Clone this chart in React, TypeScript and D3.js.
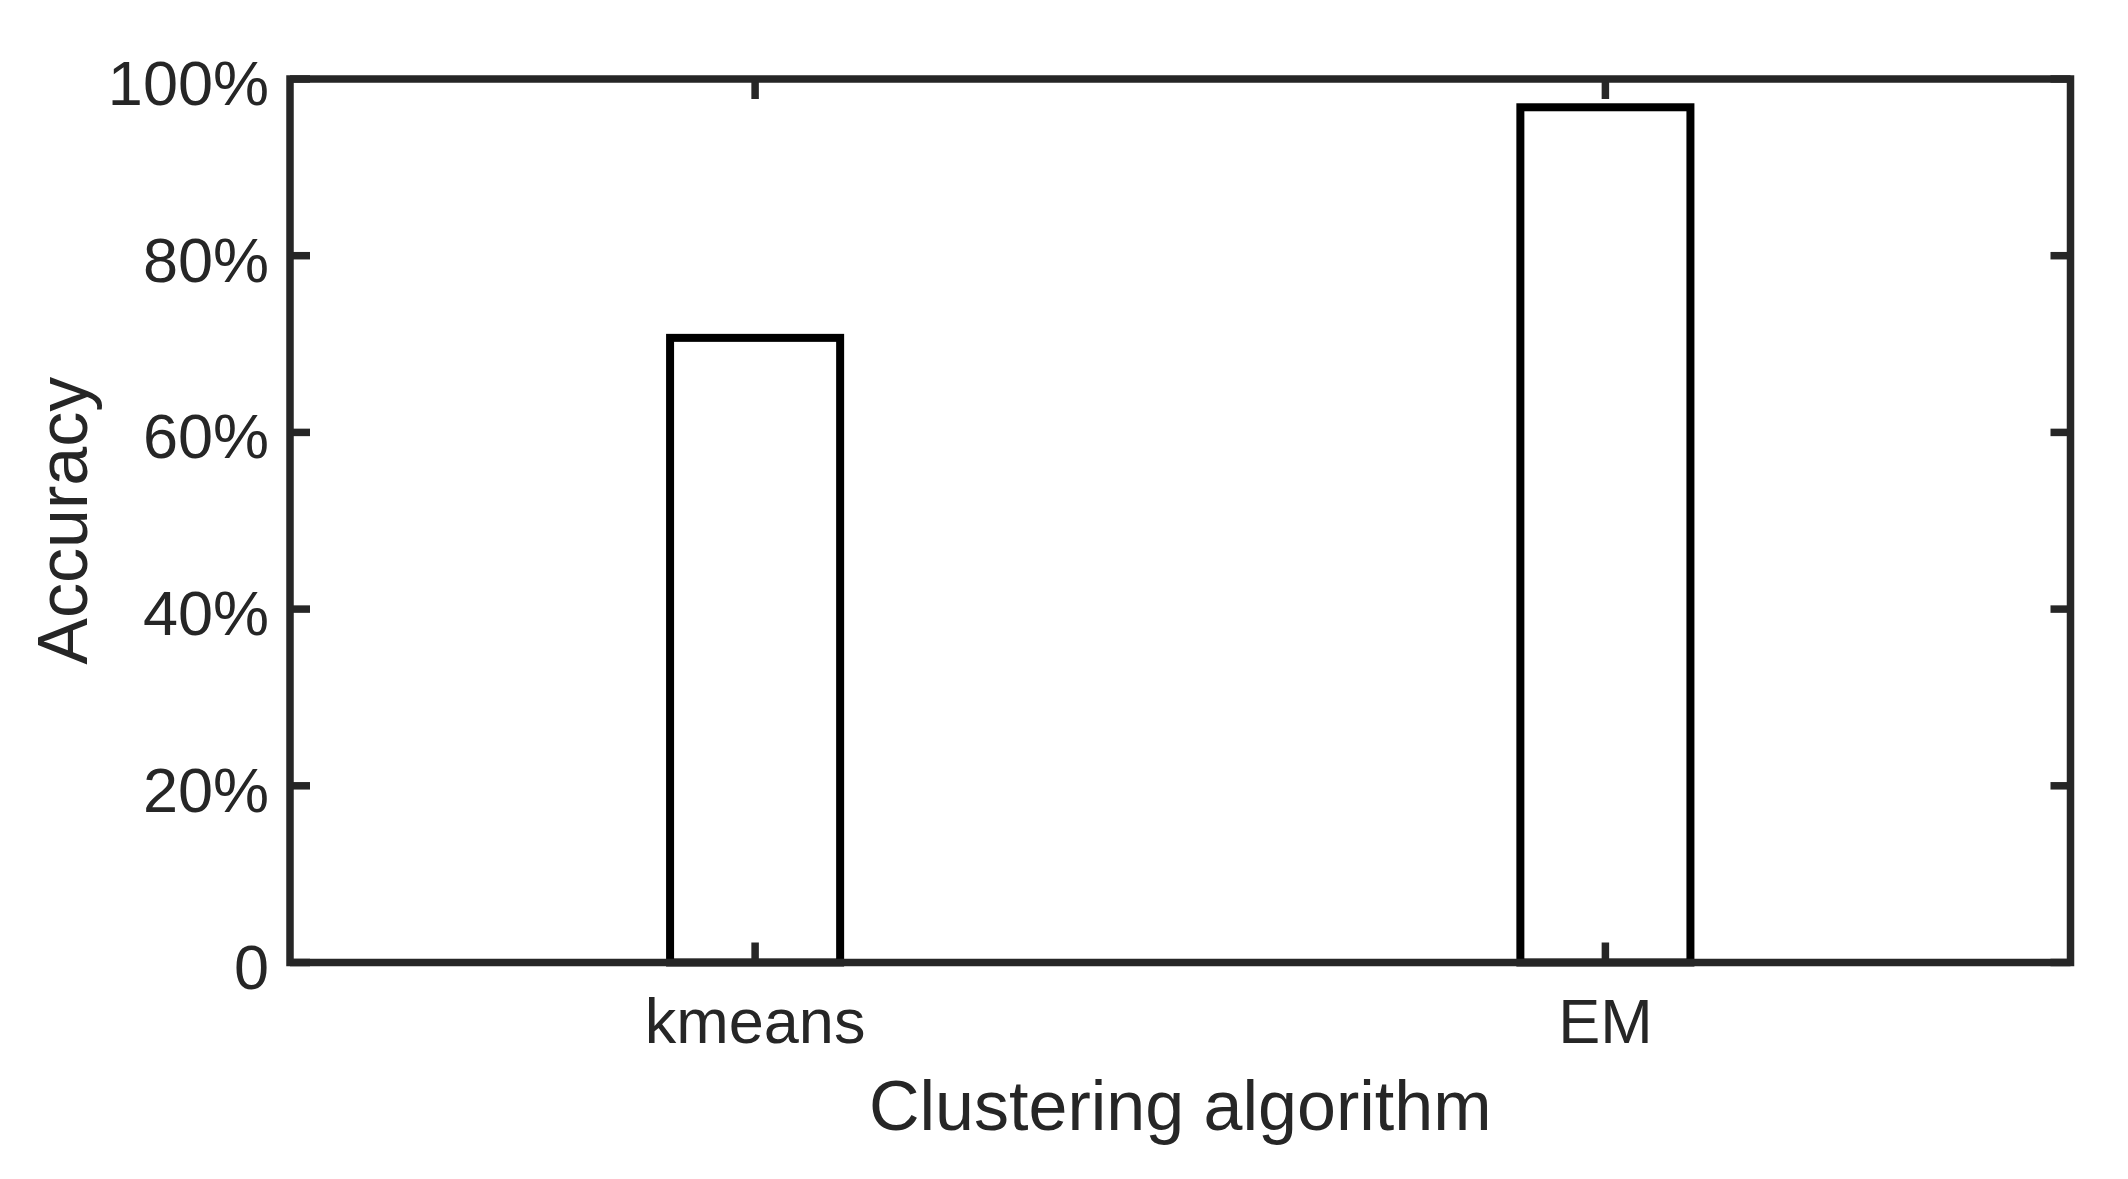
import React from "react";
import * as d3 from "d3";

const categories = ["kmeans", "EM"];
const accuracy = [0.707, 0.968];
const yTicks = [0, 0.2, 0.4, 0.6, 0.8, 1.0];
const yTickLabels = ["0", "20%", "40%", "60%", "80%", "100%"];
const xLabel = "Clustering algorithm";
const yLabel = "Accuracy";

const W = 2128;
const H = 1179;
const L = 290, R = 2070.5, T = 79, B = 962.5;
const AX = "#262626";
const FONT = "'Liberation Sans', Arial, Helvetica, sans-serif";

export default function App() {
  const x = d3.scaleLinear().domain([0.453, 2.547]).range([L, R]);
  const y = d3.scaleLinear().domain([0, 1]).range([B, T]);
  const barW = 0.2;
  const tickLen = 20;
  const axW = 7.5;

  return (
    <svg
      width={W}
      height={H}
      viewBox={`0 0 ${W} ${H}`}
      style={{ position: "absolute", left: 0, top: 0, background: "#fff" }}
    >
      <rect x={0} y={0} width={W} height={H} fill="#fff" />
      {categories.map((c, i) => {
        const xc = i + 1;
        const x0 = x(xc - barW / 2);
        const x1 = x(xc + barW / 2);
        const yt = y(accuracy[i]);
        return (
          <rect
            key={c}
            x={x0}
            y={yt}
            width={x1 - x0}
            height={y(0) - yt}
            fill="#fff"
            stroke="#000"
            strokeWidth={8}
          />
        );
      })}
      {yTicks.map((t, i) => (
        <g key={"yt" + i}>
          <line x1={L} x2={L + tickLen} y1={y(t)} y2={y(t)} stroke={AX} strokeWidth={axW} />
          <line x1={R} x2={R - tickLen} y1={y(t)} y2={y(t)} stroke={AX} strokeWidth={axW} />
          <text
            x={269}
            y={y(t) + 26}
            textAnchor="end"
            fontFamily={FONT}
            fontSize={63}
            fill={AX}
          >
            {yTickLabels[i]}
          </text>
        </g>
      ))}
      {categories.map((c, i) => (
        <g key={"xt" + c}>
          <line x1={x(i + 1)} x2={x(i + 1)} y1={B} y2={B - tickLen} stroke={AX} strokeWidth={axW} />
          <line x1={x(i + 1)} x2={x(i + 1)} y1={T} y2={T + tickLen} stroke={AX} strokeWidth={axW} />
          <text
            x={x(i + 1)}
            y={1043}
            textAnchor="middle"
            fontFamily={FONT}
            fontSize={63}
            fill={AX}
          >
            {c}
          </text>
        </g>
      ))}
      <rect x={L} y={T} width={R - L} height={B - T} fill="none" stroke={AX} strokeWidth={axW} />
      <text
        x={(L + R) / 2}
        y={1130}
        textAnchor="middle"
        fontFamily={FONT}
        fontSize={70}
        fill={AX}
      >
        {xLabel}
      </text>
      <text
        transform={`translate(87, ${(T + B) / 2}) rotate(-90)`}
        textAnchor="middle"
        fontFamily={FONT}
        fontSize={70}
        fill={AX}
      >
        {yLabel}
      </text>
    </svg>
  );
}
